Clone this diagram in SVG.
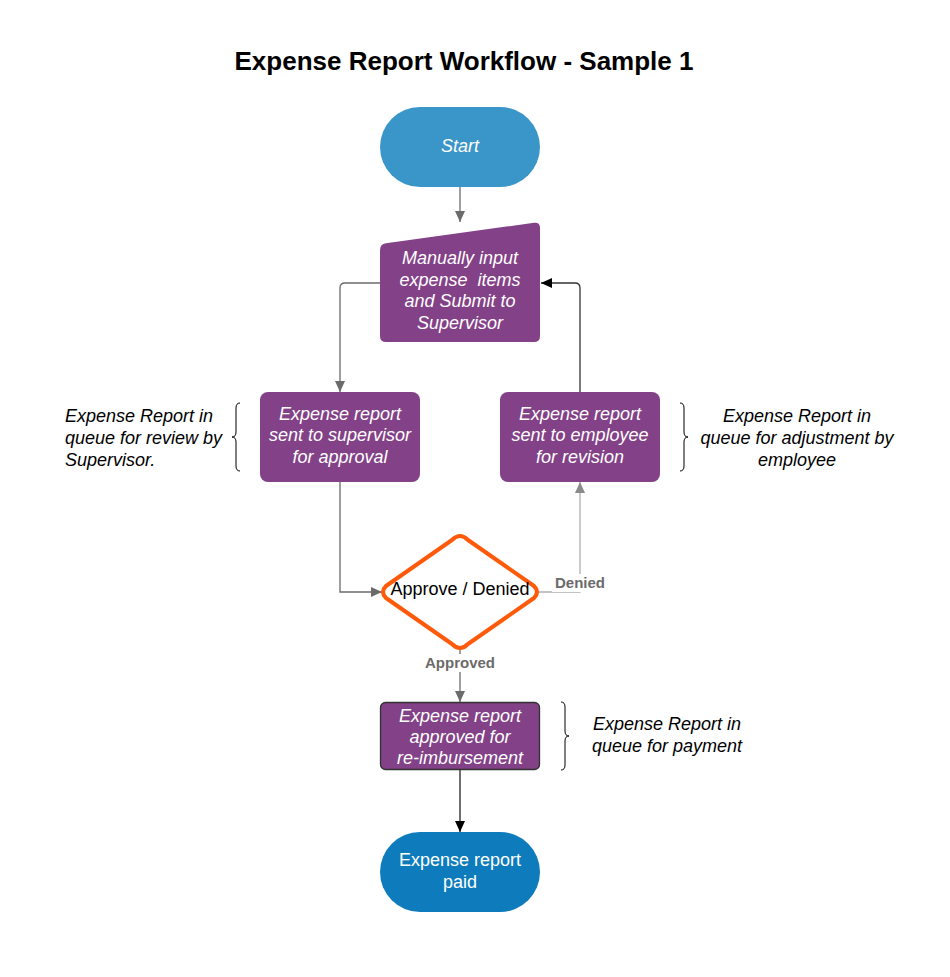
<svg xmlns="http://www.w3.org/2000/svg" width="950" height="977" viewBox="0 0 950 977">
<style>
.t{font-family:"Liberation Sans",Arial,sans-serif;font-size:18px;text-anchor:middle}
.w{fill:#ffffff;font-style:italic}
.k{fill:#000000;font-style:italic}
.a{font-family:"Liberation Sans",Arial,sans-serif;font-size:18px;font-style:italic;fill:#000}
.lbl{font-family:"Liberation Sans",Arial,sans-serif;font-size:15px;font-weight:bold;fill:#6b6b6b;text-anchor:middle}
.proc{fill:#834187}
.ln{fill:none;stroke:#6b6b6b;stroke-width:1.3}
.br{fill:none;stroke:#000;stroke-width:1}
</style>
<defs>
<marker id="ag" markerUnits="userSpaceOnUse" markerWidth="12" markerHeight="10" refX="11" refY="5" orient="auto">
<path d="M0,0 L11,5 L0,10 Z" fill="#6b6b6b"/>
</marker>
<marker id="al" markerUnits="userSpaceOnUse" markerWidth="12" markerHeight="10" refX="11" refY="5" orient="auto">
<path d="M0,0 L11,5 L0,10 Z" fill="#8a8a8a"/>
</marker>
<marker id="ak" markerUnits="userSpaceOnUse" markerWidth="12" markerHeight="10" refX="11" refY="5" orient="auto">
<path d="M0,0 L11,5 L0,10 Z" fill="#000"/>
</marker>
</defs>
<rect width="950" height="977" fill="#ffffff"/>
<text x="464" y="70" style="font-family:'Liberation Sans',Arial,sans-serif;font-size:26px;font-weight:bold;text-anchor:middle" fill="#000">Expense Report Workflow - Sample 1</text>

<g id="connectors">
<path class="ln" d="M460,187 L460,222" marker-end="url(#ag)"/>
<path class="ln" d="M380,283 L345,283 Q340,283 340,288 L340,392" marker-end="url(#ag)"/>
<path fill="none" stroke="#333" stroke-width="1.3" d="M580,392 L580,288 Q580,283 575,283 L541,283" marker-end="url(#ak)"/>
<path class="ln" d="M340,482 L340,592 L382,592" marker-end="url(#ag)"/>
<path fill="none" stroke="#b0b0b0" stroke-width="1.3" d="M538,592 L580,592 L580,482" marker-end="url(#al)"/>
<path class="ln" d="M460,650 L460,702" marker-end="url(#ag)"/>
<path fill="none" stroke="#222" stroke-width="1.3" d="M460,770 L460,832" marker-end="url(#ak)"/>
<rect x="552" y="574" width="56" height="18" fill="#ffffff"/>
<text class="lbl" x="580" y="588">Denied</text>
<rect x="423" y="654" width="74" height="18" fill="#ffffff"/>
<text class="lbl" x="460" y="668">Approved</text>
</g>

<g id="start">
<rect x="380" y="107" width="160" height="80" rx="40" ry="40" fill="#3a95c8"/>
<text class="t w" x="460" y="152">Start</text>
</g>

<g id="manual-input">
<path class="proc" d="M380,250 Q380,244 386,243.2 L534,222.8 Q540,222 540,228 L540,336 Q540,342 534,342 L386,342 Q380,342 380,336 Z"/>
<text class="t w" x="460" y="264">Manually input</text>
<text class="t w" x="460" y="285.5" xml:space="preserve">expense  items</text>
<text class="t w" x="460" y="307">and Submit to</text>
<text class="t w" x="460" y="328.5">Supervisor</text>
</g>

<g id="to-supervisor">
<rect class="proc" x="260" y="392" width="160" height="90" rx="8" ry="8"/>
<text class="t w" x="340" y="419.5">Expense report</text>
<text class="t w" x="340" y="441">sent to supervisor</text>
<text class="t w" x="340" y="462.5">for approval</text>
</g>

<g id="to-employee">
<rect class="proc" x="500" y="392" width="160" height="90" rx="8" ry="8"/>
<text class="t w" x="580" y="419.5">Expense report</text>
<text class="t w" x="580" y="441">sent to employee</text>
<text class="t w" x="580" y="462.5">for revision</text>
</g>

<g id="note-supervisor">
<path class="br" d="M240,403 Q236,403 236,408 L236,432 Q236,437 232,437 Q236,437 236,442 L236,466 Q236,471 240,471"/>
<text class="a" x="65" y="421.5">Expense Report in</text>
<text class="a" x="65" y="443.5">queue for review by</text>
<text class="a" x="65" y="465.5">Supervisor.</text>
</g>

<g id="note-employee">
<path class="br" d="M680,403 Q684,403 684,408 L684,432 Q684,437 688,437 Q684,437 684,442 L684,466 Q684,471 680,471"/>
<text class="t k" x="797" y="421.5">Expense Report in</text>
<text class="t k" x="797" y="443.5">queue for adjustment by</text>
<text class="t k" x="797" y="465.5">employee</text>
</g>

<g id="decision">
<path d="M460,536 Q464,536 468,540 L534,586 Q540,592 534,598 L468,644 Q464,648 460,648 Q456,648 452,644 L386,598 Q380,592 386,586 L452,540 Q456,536 460,536 Z" fill="#ffffff" stroke="#ff5a0a" stroke-width="4" stroke-linejoin="round"/>
<text class="t" fill="#000" x="460" y="595">Approve / Denied</text>
</g>

<g id="approved">
<rect class="proc" x="380.5" y="702.5" width="159" height="67" rx="5" ry="5" stroke="#333" stroke-width="1.3"/>
<text class="t w" x="460" y="721.5">Expense report</text>
<text class="t w" x="460" y="742.5">approved for</text>
<text class="t w" x="460" y="763.5">re-imbursement</text>
</g>

<g id="note-payment">
<path class="br" d="M561,702 Q565,702 565,707 L565,731 Q565,736 569,736 Q565,736 565,741 L565,765 Q565,770 561,770"/>
<text class="t k" x="667" y="729.5">Expense Report in</text>
<text class="t k" x="667" y="751.5">queue for payment</text>
</g>

<g id="end">
<rect x="380" y="832" width="160" height="80" rx="40" ry="40" fill="#0e7cbc"/>
<text class="t" fill="#ffffff" x="460" y="865.5">Expense report</text>
<text class="t" fill="#ffffff" x="460" y="887.5">paid</text>
</g>
</svg>
